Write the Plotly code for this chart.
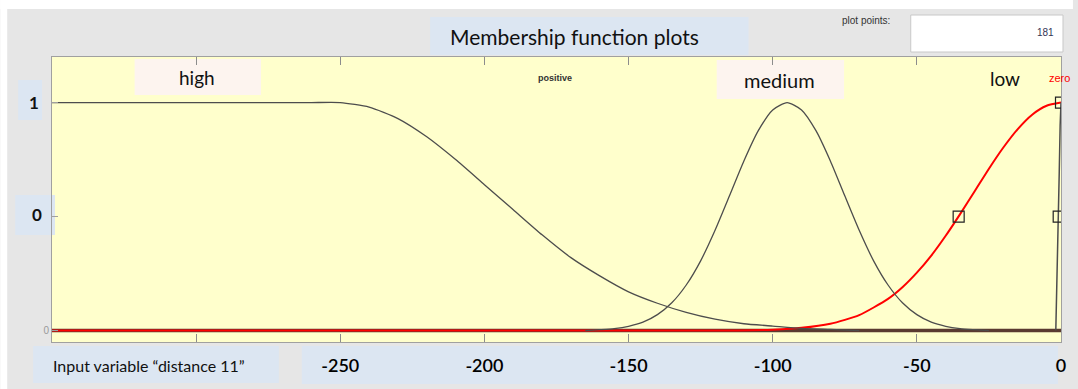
import plotly.graph_objects as go

# ---------------- data ----------------
x_range = [-350, 0]
y_range = [-0.05, 1.2]

xtick_vals = [-300, -250, -200, -150, -100, -50, 0]
xtick_text = ["", "-250", "-200", "-150", "-100", "-50", "0"]

high_x = [-350, -300, -270, -260, -250, -240, -230, -220, -210, -200, -190,
          -180, -170, -160, -150, -140, -130, -120, -110, -100, -90, -80, -70]
high_y = [1.0, 1.0, 1.0, 1.0, 1.0, 0.98, 0.93, 0.85, 0.75, 0.64, 0.53,
          0.42, 0.32, 0.24, 0.17, 0.12, 0.08, 0.05, 0.03, 0.02, 0.01, 0.005,
          0.0]

medium_x = [-165, -160, -155, -150, -145, -140, -135, -130, -125, -120, -115,
            -110, -105, -100, -95, -90, -85, -80, -75, -70, -65, -60, -55,
            -50, -45, -40, -35, -30, -25]
medium_y = [0.0, 0.004, 0.009, 0.019, 0.037, 0.07, 0.122, 0.2, 0.306, 0.44,
            0.591, 0.744, 0.877, 0.968, 1.0, 0.968, 0.877, 0.744, 0.591, 0.44,
            0.306, 0.2, 0.122, 0.07, 0.037, 0.019, 0.009, 0.004, 0.0]

low_x = [-350, -112, -100, -90, -80, -70, -60, -55, -50, -45, -40, -35, -30,
         -25, -20, -15, -10, -5, 0]
low_y = [0.0, 0.0, 0.004, 0.012, 0.03, 0.068, 0.139, 0.19, 0.254, 0.329,
         0.416, 0.511, 0.61, 0.71, 0.803, 0.884, 0.947, 0.986, 1.0]

zero_x = [-1.8, -1.4, -1.0, -0.6, -0.3, 0.0]
zero_y = [0.0, 0.2, 0.45, 0.7, 0.9, 1.0]

marker_x = [-35.5, 0.0, -0.8]
marker_y = [0.5, 1.0, 0.5]

baseline_x = [-350, 0]
baseline_y = [0, 0]

# ---------------- figure ----------------
W, H = 1078, 389
L, R, T, B = 52, 12, 57, 47
PW, PH = W - L - R, H - T - B


def px(x):
    return (x - L) / PW


def py(y):
    return (H - B - y) / PH


CURVE = "#4d4d4d"
BOX_BLUE = "#dce6f2"
BOX_PINK = "#fdf4ef"

fig = go.Figure()
fig.add_trace(go.Scatter(x=baseline_x, y=baseline_y, mode="lines",
                         line=dict(color="#5a3a30", width=3.5), hoverinfo="skip"))
fig.add_trace(go.Scatter(x=low_x, y=low_y, mode="lines", name="low",
                         line=dict(color="#ff0000", width=2, shape="spline",
                                   smoothing=0.6)))
fig.add_trace(go.Scatter(x=high_x, y=high_y, mode="lines", name="high",
                         line=dict(color=CURVE, width=1.3, shape="spline",
                                   smoothing=0.6)))
fig.add_trace(go.Scatter(x=medium_x, y=medium_y, mode="lines", name="medium",
                         line=dict(color=CURVE, width=1.3, shape="spline",
                                   smoothing=0.6)))
fig.add_trace(go.Scatter(x=zero_x, y=zero_y, mode="lines", name="zero",
                         line=dict(color=CURVE, width=1.5)))
fig.add_trace(go.Scatter(x=marker_x, y=marker_y, mode="markers",
                         marker=dict(symbol="square-open", size=11,
                                     color="#222222", line=dict(width=1.2))))

shapes = []


def box(x0, y0, x1, y1, color, line=None):
    shapes.append(dict(type="rect", xref="paper", yref="paper",
                       x0=px(x0), x1=px(x1), y0=py(y1), y1=py(y0),
                       fillcolor=color,
                       line=dict(width=1 if line else 0, color=line or color),
                       layer="below"))


# white strips at top and left of the window
box(0, 0, W, 9, "#ffffff")
box(0, 0, 7, H, "#ffffff")
# overlay boxes
box(432, 17, 752, 55, BOX_BLUE)
box(915, 15, 1068, 52, "#ffffff", line="#c8c8c8")
box(135, 59, 262, 95, BOX_PINK)
box(720, 60, 848, 99, BOX_PINK)
box(18, 80, 42, 120, BOX_BLUE)
box(15, 195, 55, 235, BOX_BLUE)
box(33, 346, 280, 383, BOX_BLUE)
box(303, 346, 1063, 384, BOX_BLUE)

annotations = []


def text(x, y, s, size, color="#111111", family="Lato", anchor="center"):
    annotations.append(dict(xref="paper", yref="paper", x=px(x), y=py(y),
                            text=s, showarrow=False, xanchor=anchor,
                            yanchor="middle",
                            font=dict(size=size, color=color, family=family)))


text(577, 36, "Membership function plots", 21)
text(870, 20, "plot points:", 10, "#333333", "Liberation Sans")
text(1061, 33, "181", 10, "#333355", "Liberation Sans", anchor="right")
text(198, 77, "high", 19)
text(557, 78, "<b>positive</b>", 9, "#333333", "Liberation Sans")
text(783, 80, "medium", 20)
text(1010, 78, "low", 19)
text(1052, 78, "zero", 11, "#ff0000", "Liberation Sans", anchor="left")
text(34, 102, "<b>1</b>", 17)
text(37, 215, "<b>0</b>", 17)
text(51, 365, "Input variable “distance 11”", 16, anchor="left")

fig.update_layout(
    width=W, height=H, autosize=False,
    margin=dict(l=L, r=R, t=T, b=B, pad=0),
    paper_bgcolor="#e6e6e6", plot_bgcolor="#ffffcc",
    showlegend=False, shapes=shapes, annotations=annotations,
)
fig.update_xaxes(range=x_range, tickvals=xtick_vals, ticktext=xtick_text,
                 ticks="inside", ticklen=8, tickcolor="#8c8c8c",
                 showline=True, mirror="ticks", linecolor="#a0a0a0",
                 linewidth=1, showgrid=False, zeroline=False,
                 ticklabelstandoff=7,
                 tickfont=dict(family="Lato", size=18, color="#000000",
                               weight=600))
fig.update_yaxes(range=y_range, tickvals=[0, 0.5, 1], ticktext=["0", "", ""],
                 ticks="inside", ticklen=6, tickcolor="#a0a0a0",
                 showline=True, mirror=True, linecolor="#a0a0a0",
                 linewidth=1, showgrid=False, zeroline=False,
                 tickfont=dict(family="Liberation Sans", size=10,
                               color="#999999"))

fig.write_html("out.html", config={"displayModeBar": False},
               post_script="document.body.style.margin='0';")
